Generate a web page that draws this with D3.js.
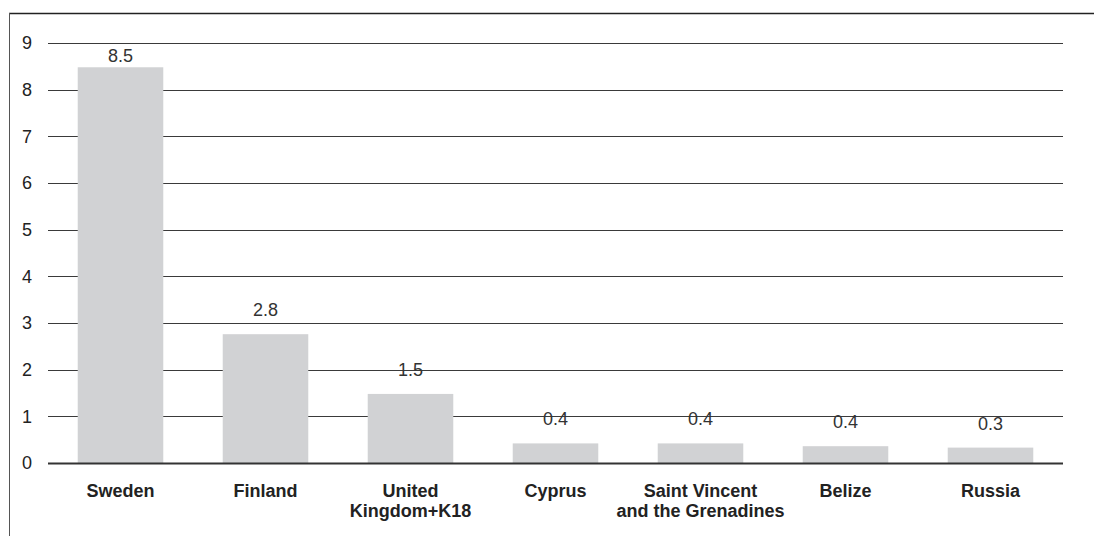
<!DOCTYPE html>
<html>
<head>
<meta charset="utf-8">
<script src="https://cdn.jsdelivr.net/npm/d3@7"></script>
<style>
  html, body { margin: 0; padding: 0; background: #fff; }
  svg { display: block; font-family: "Liberation Sans", Arial, Helvetica, sans-serif; }
</style>
</head>
<body>
<svg id="chart" width="1094" height="536"></svg>
<script>
// Countries and values
const categories = ["Sweden", "Finland", "United\nKingdom+K18", "Cyprus", "Saint Vincent\nand the Grenadines", "Belize", "Russia"];
const values = [8.48, 2.76, 1.48, 0.42, 0.42, 0.36, 0.33];
const yTicks = [0, 1, 2, 3, 4, 5, 6, 7, 8, 9];

const svg = d3.select("#chart");
const W = 1094, H = 536;
const plot = { left: 48, right: 1063, top: 43, bottom: 463 };

// Frame: top and left rules
svg.append("line").attr("x1", 9).attr("x2", W).attr("y1", 13.5).attr("y2", 13.5)
  .attr("stroke", "#222").attr("stroke-width", 1.3);
svg.append("line").attr("x1", 9.5).attr("x2", 9.5).attr("y1", 13).attr("y2", H)
  .attr("stroke", "#555").attr("stroke-width", 1);

const x = d3.scaleBand().domain(categories).range([plot.left, plot.right]).paddingInner(0.41).paddingOuter(0.205);
const y = d3.scaleLinear().domain([0, 9]).range([plot.bottom, plot.top]);

// Horizontal gridlines
svg.append("g").selectAll("line").data(yTicks.filter(d => d > 0)).join("line")
  .attr("x1", plot.left).attr("x2", plot.right)
  .attr("y1", d => Math.round(y(d)) + 0.5).attr("y2", d => Math.round(y(d)) + 0.5)
  .attr("stroke", "#3a3a3a").attr("stroke-width", 1);

// Y tick labels
svg.append("g").selectAll("text").data(yTicks).join("text")
  .attr("x", 22).attr("y", d => y(d)).attr("dy", "0.36em")
  .attr("font-size", 18).attr("fill", "#222")
  .text(d => d);

// Bars
svg.append("g").selectAll("rect").data(values).join("rect")
  .attr("x", (d, i) => x(categories[i]))
  .attr("width", x.bandwidth())
  .attr("y", d => y(d))
  .attr("height", d => y(0) - y(d))
  .attr("fill", "#d1d2d4");

// Baseline
svg.append("line").attr("x1", plot.left).attr("x2", plot.right)
  .attr("y1", y(0) + 0.5).attr("y2", y(0) + 0.5)
  .attr("stroke", "#333").attr("stroke-width", 2);

// Value labels, kept inside the top of the plot
const fmt = d3.format(".1f");
svg.append("g").selectAll("text").data(values).join("text")
  .attr("x", (d, i) => x(categories[i]) + x.bandwidth() / 2)
  .attr("y", d => Math.max(y(d) - 18, y(9) + 19))
  .attr("text-anchor", "middle")
  .attr("font-size", 18).attr("fill", "#333")
  .text(d => fmt(d));

// Category labels (bold, may wrap to two lines)
const cat = svg.append("g").selectAll("text").data(categories).join("text")
  .attr("x", d => x(d) + x.bandwidth() / 2)
  .attr("y", 497)
  .attr("text-anchor", "middle")
  .attr("font-size", 18).attr("font-weight", "bold").attr("fill", "#222");
cat.each(function(d) {
  const t = d3.select(this);
  d.split("\n").forEach((line, i) => {
    t.append("tspan").attr("x", x(d) + x.bandwidth() / 2).attr("dy", i === 0 ? 0 : 20).text(line);
  });
});
</script>
</body>
</html>
